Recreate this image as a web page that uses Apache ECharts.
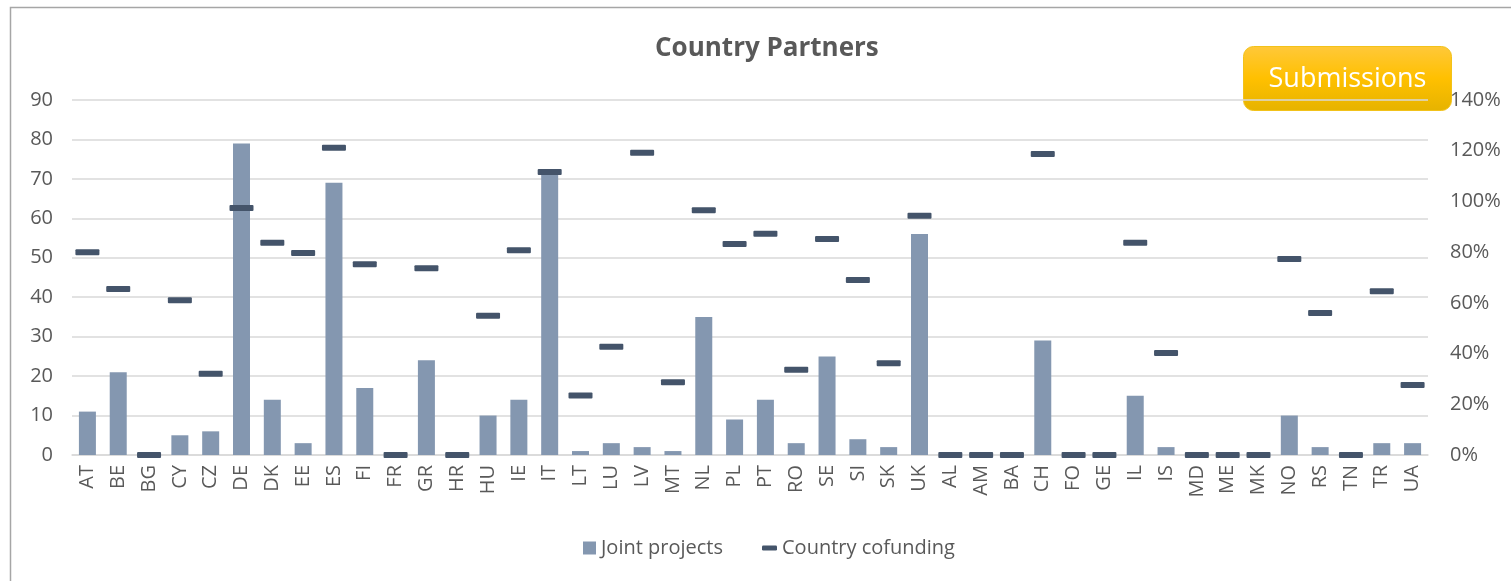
<!DOCTYPE html>
<html>
<head>
<meta charset="utf-8">
<script src="https://cdn.jsdelivr.net/npm/echarts@6/dist/echarts.min.js"></script>
<style>
html,body{margin:0;padding:0;background:#fff;}
#chart{width:1511px;height:581px;}
</style>
</head>
<body>
<div id="chart"></div>
<script>
const categories = ['AT','BE','BG','CY','CZ','DE','DK','EE','ES','FI','FR','GR','HR','HU','IE','IT','LT','LU','LV','MT','NL','PL','PT','RO','SE','SI','SK','UK','AL','AM','BA','CH','FO','GE','IL','IS','MD','ME','MK','NO','RS','TN','TR','UA'];
const jointProjects = [11,21,0,5,6,79,14,3,69,17,0,24,0,10,14,71,1,3,2,1,35,9,14,3,25,4,2,56,0,0,0,29,0,0,15,2,0,0,0,10,2,0,3,3];
const countryCofunding = [0.80,0.655,0,0.61,0.32,0.974,0.837,0.797,1.212,0.752,0,0.736,0,0.549,0.807,1.116,0.235,0.427,1.192,0.287,0.965,0.832,0.873,0.336,0.852,0.69,0.362,0.944,0,0,0,1.187,0,0,0.837,0.402,0,0,0,0.773,0.56,0,0.646,0.276];
const leftTicks = {min:0, max:90, interval:10};
const rightTicks = {min:0, max:1.4, interval:0.2};

const FONT = '"Open Sans", "Noto Sans", sans-serif';
const TXT = '#595959';
const DASH = 'path://M1,0 H23 Q24,0 24,1 V5 Q24,6 23,6 H1 Q0,6 0,5 V1 Q0,0 1,0 Z';

const chart = echarts.init(document.getElementById('chart'), null, {renderer:'canvas'});
chart.setOption({
  backgroundColor:'#ffffff',
  animation:false,
  textStyle:{fontFamily:FONT},
  title:{
    text:'Country Partners', left:650, top:31,
    textStyle:{fontFamily:FONT, fontSize:26, fontWeight:'bold', color:TXT}
  },
  legend:[
    {data:['Joint projects'], left:578, top:533, icon:'rect', itemWidth:13, itemHeight:13, itemGap:10,
     textStyle:{fontFamily:FONT, fontSize:20, color:TXT}},
    {data:['Country cofunding'], left:757, top:533, icon:'roundRect', itemWidth:15, itemHeight:5,
     textStyle:{fontFamily:FONT, fontSize:20, color:TXT}}
  ],
  grid:{left:72, right:83, top:100, bottom:126, outerBoundsMode:'none', containLabel:false},
  xAxis:{
    type:'category', data:categories,
    axisLine:{show:true, lineStyle:{color:'#D9D9D9', width:1.5}},
    axisTick:{show:false},
    axisLabel:{rotate:90, fontFamily:FONT, fontSize:20, color:TXT, margin:10, interval:0}
  },
  yAxis:[
    {type:'value', min:leftTicks.min, max:leftTicks.max, interval:leftTicks.interval,
     axisLine:{show:false}, axisTick:{show:false},
     splitLine:{lineStyle:{color:'#D9D9D9', width:1.5}},
     axisLabel:{fontFamily:FONT, fontSize:20, color:TXT, margin:19}},
    {type:'value', min:rightTicks.min, max:rightTicks.max, interval:rightTicks.interval,
     axisLine:{show:false}, axisTick:{show:false}, splitLine:{show:false},
     axisLabel:{fontFamily:FONT, fontSize:20, color:TXT, margin:22,
       formatter:function(v){return Math.round(v*100)+'%';}}}
  ],
  series:[
    {name:'Joint projects', type:'bar', data:jointProjects, yAxisIndex:0,
     barWidth:17, itemStyle:{color:'#8497B0'}},
    {name:'Country cofunding', type:'scatter', data:countryCofunding, yAxisIndex:1,
     symbol:DASH, symbolSize:[24,6], itemStyle:{color:'#44546A', opacity:1}, z:5}
  ],
  graphic:[
    {type:'rect', shape:{x:10.5, y:7.5, width:1520, height:600}, style:{fill:'none', stroke:'#A6A6A6', lineWidth:1.5}, silent:true, z:-1},
    {type:'group', left:1243, top:46, children:[
      {type:'rect', shape:{x:0, y:0, width:208, height:64, r:10},
       style:{fill:new echarts.graphic.LinearGradient(0,0,0,1,[{offset:0,color:'#FFC83A'},{offset:0.5,color:'#FFC000'},{offset:1,color:'#E6B300'}]),
              stroke:'#F2C21A', lineWidth:1}},
      {type:'text', x:104, y:33, style:{text:'Submissions', fill:'#ffffff', fontFamily:FONT, fontSize:27, align:'center', verticalAlign:'middle'}}
    ], z:10}
  ]
});
</script>
</body>
</html>
